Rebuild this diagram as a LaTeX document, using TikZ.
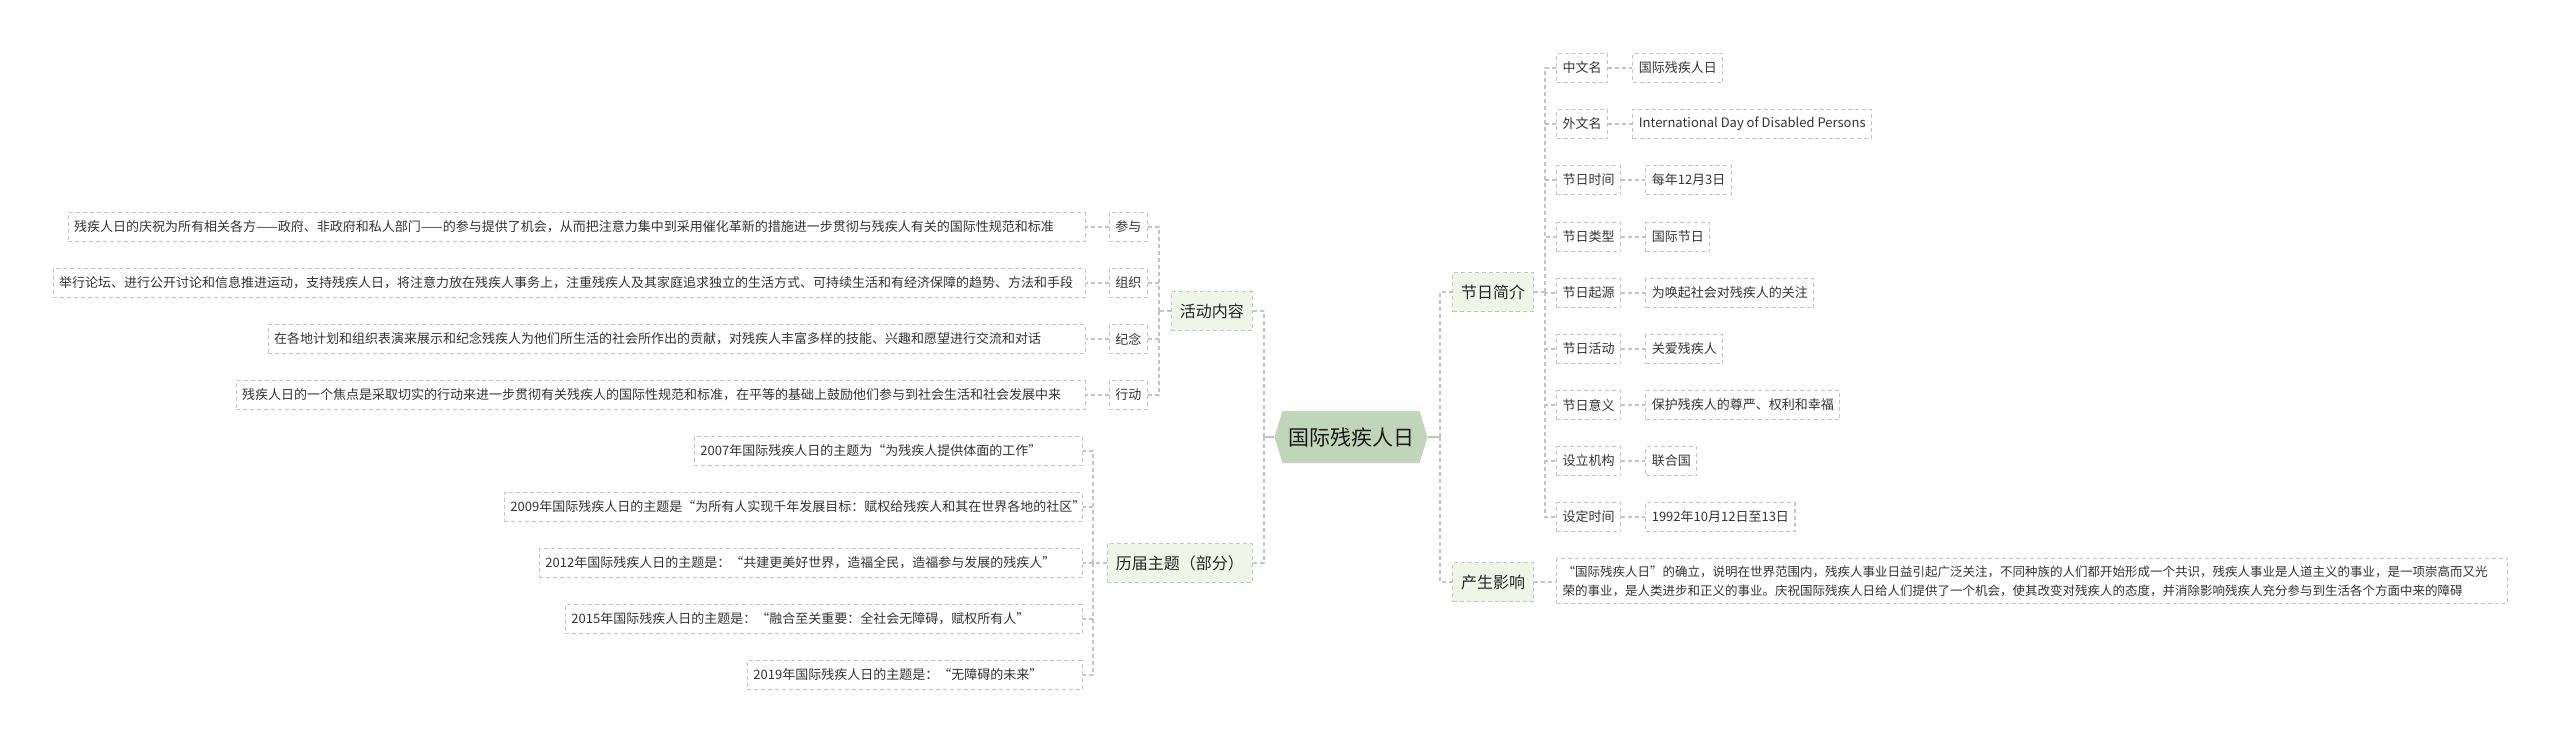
\documentclass[tikz,border=0pt]{standalone}
\usepackage{fontspec}
\setmainfont{Noto Sans CJK SC}
\usepackage{xcolor}
\usepackage{tikz}
\usetikzlibrary{shapes,shapes.symbols,positioning}

\definecolor{lineGray}{HTML}{C4C4C4}
\definecolor{textGray}{HTML}{333333}
\definecolor{rootGreen}{HTML}{BFD7B8}
\definecolor{rootLine}{HTML}{B4CBAD}
\definecolor{topicGreen}{HTML}{EFF5E7}

\begin{document}
\begin{tikzpicture}[x=1pt,y=-1pt,
  link/.style={draw=lineGray, line width=1.2pt, dash pattern=on 4pt off 3pt},
  rootlink/.style={draw=rootLine, line width=1.6pt},
  box/.style={draw=lineGray, line width=1.2pt, dash pattern=on 4pt off 3pt, text=textGray,
    inner xsep=6pt, inner ysep=0pt, minimum height=29pt, font=\fontsize{13pt}{16pt}\selectfont},
  longbox/.style={box, align=left},
  topic/.style={draw=lineGray, fill=topicGreen, line width=1.2pt, dash pattern=on 4pt off 3pt,
    text=black!85, inner xsep=8.5pt, inner ysep=0pt, minimum height=39pt, font=\fontsize{16pt}{19pt}\selectfont},
  rootbox/.style={shape=signal, signal to=west and east, signal pointer angle=146, fill=rootGreen,
    text=black!90, inner xsep=4pt, inner ysep=0pt, minimum width=153pt, minimum height=52pt,
    font=\fontsize{21pt}{24pt}\selectfont}]
\useasboundingbox (0,0) rectangle (2560,744);

\node[rootbox] (Root) at (1351,437) {国际残疾人日};

\node[topic, anchor=west] (Intro) at (1452,292) {节日简介};
\node[topic, anchor=west] (Impact) at (1452,582) {产生影响};
\node[topic, anchor=east] (Activity) at (1253,311) {活动内容};
\node[topic, anchor=east] (Themes) at (1253,563) {历届主题（部分）};

\node[box, anchor=west] (NameCN) at (1556,68) {中文名};
\node[box, anchor=west] (NameEN) at (1556,124) {外文名};
\node[box, anchor=west] (Date) at (1556,180) {节日时间};
\node[box, anchor=west] (Kind) at (1556,237) {节日类型};
\node[box, anchor=west] (Origin) at (1556,293) {节日起源};
\node[box, anchor=west] (Event) at (1556,349) {节日活动};
\node[box, anchor=west] (Meaning) at (1556,405) {节日意义};
\node[box, anchor=west] (Founder) at (1556,461) {设立机构};
\node[box, anchor=west] (Founded) at (1556,517) {设定时间};

\node[box, right=24pt of NameCN] (NameCNVal) {国际残疾人日};
\node[box, right=24pt of NameEN] (NameENVal) {International Day of Disabled Persons};
\node[box, right=24pt of Date] (DateVal) {每年12月3日};
\node[box, right=24pt of Kind] (KindVal) {国际节日};
\node[box, right=24pt of Origin] (OriginVal) {为唤起社会对残疾人的关注};
\node[box, right=24pt of Event] (EventVal) {关爱残疾人};
\node[box, right=24pt of Meaning] (MeaningVal) {保护残疾人的尊严、权利和幸福};
\node[box, right=24pt of Founder] (FounderVal) {联合国};
\node[box, right=24pt of Founded] (FoundedVal) {1992年10月12日至13日};

\node[longbox, anchor=west, text width=939pt, inner ysep=7pt, font=\fontsize{12.5pt}{19pt}\selectfont] (ImpactText) at (1556,581)
  {“国际残疾人日”的确立，说明在世界范围内，残疾人事业日益引起广泛关注，不同种族的人们都开始形成一个共识，残疾人事业是人道主义的事业，是一项崇高而又光\\
   荣的事业，是人类进步和正义的事业。庆祝国际残疾人日给人们提供了一个机会，使其改变对残疾人的态度，并消除影响残疾人充分参与到生活各个方面中来的障碍};

\node[box, anchor=east] (Join) at (1148,227) {参与};
\node[box, anchor=east] (Organize) at (1148,283) {组织};
\node[box, anchor=east] (Honor) at (1148,339) {纪念};
\node[box, anchor=east] (Act) at (1148,395) {行动};

\node[longbox, left=23pt of Join, text width=1005pt] (JoinText) {残疾人日的庆祝为所有相关各方——政府、非政府和私人部门——的参与提供了机会，从而把注意力集中到采用催化革新的措施进一步贯彻与残疾人有关的国际性规范和标准};
\node[longbox, left=23pt of Organize, text width=1020pt] (OrganizeText) {举行论坛、进行公开讨论和信息推进运动，支持残疾人日，将注意力放在残疾人事务上，注重残疾人及其家庭追求独立的生活方式、可持续生活和有经济保障的趋势、方法和手段};
\node[longbox, left=23pt of Honor, text width=805pt] (HonorText) {在各地计划和组织表演来展示和纪念残疾人为他们所生活的社会所作出的贡献，对残疾人丰富多样的技能、兴趣和愿望进行交流和对话};
\node[longbox, left=23pt of Act, text width=837pt] (ActText) {残疾人日的一个焦点是采取切实的行动来进一步贯彻有关残疾人的国际性规范和标准，在平等的基础上鼓励他们参与到社会生活和社会发展中来};

\node[longbox, anchor=east, text width=376pt] (Theme07) at (1083,451) {2007年国际残疾人日的主题为“为残疾人提供体面的工作”};
\node[longbox, anchor=east, text width=566pt] (Theme09) at (1083,507) {2009年国际残疾人日的主题是“为所有人实现千年发展目标：赋权给残疾人和其在世界各地的社区”};
\node[longbox, anchor=east, text width=531pt] (Theme12) at (1083,563) {2012年国际残疾人日的主题是：“共建更美好世界，造福全民，造福参与发展的残疾人”};
\node[longbox, anchor=east, text width=505pt] (Theme15) at (1083,619) {2015年国际残疾人日的主题是：“融合至关重要：全社会无障碍，赋权所有人”};
\node[longbox, anchor=east, text width=323pt] (Theme19) at (1083,675) {2019年国际残疾人日的主题是：“无障碍的未来”};

\coordinate (RootR) at (1440,437);
\coordinate (RootL) at (1264,437);
\coordinate (IntroJ) at (1545,292);
\coordinate (ActJ) at (1159,311);
\coordinate (ThemeJ) at (1093,563);

\draw[rootlink] (Root.east) -- (RootR);
\draw[rootlink] (Root.west) -- (RootL);
\draw[link] (RootR) |- (Intro.west);
\draw[link] (RootR) |- (Impact.west);
\draw[link] (RootL) |- (Activity.east);
\draw[link] (RootL) |- (Themes.east);

\draw[link] (Intro.east) -- (IntroJ);
\draw[link] (IntroJ) |- (NameCN.west);
\draw[link] (IntroJ) |- (NameEN.west);
\draw[link] (IntroJ) |- (Date.west);
\draw[link] (IntroJ) |- (Kind.west);
\draw[link] (IntroJ) |- (Origin.west);
\draw[link] (IntroJ) |- (Event.west);
\draw[link] (IntroJ) |- (Meaning.west);
\draw[link] (IntroJ) |- (Founder.west);
\draw[link] (IntroJ) |- (Founded.west);

\draw[link] (NameCN.east) -- (NameCNVal.west);
\draw[link] (NameEN.east) -- (NameENVal.west);
\draw[link] (Date.east) -- (DateVal.west);
\draw[link] (Kind.east) -- (KindVal.west);
\draw[link] (Origin.east) -- (OriginVal.west);
\draw[link] (Event.east) -- (EventVal.west);
\draw[link] (Meaning.east) -- (MeaningVal.west);
\draw[link] (Founder.east) -- (FounderVal.west);
\draw[link] (Founded.east) -- (FoundedVal.west);

\draw[link] (Impact.east) -- (ImpactText.west |- Impact.east);

\draw[link] (Activity.west) -- (ActJ);
\draw[link] (ActJ) |- (Join.east);
\draw[link] (ActJ) |- (Organize.east);
\draw[link] (ActJ) |- (Honor.east);
\draw[link] (ActJ) |- (Act.east);
\draw[link] (Join.west) -- (JoinText.east);
\draw[link] (Organize.west) -- (OrganizeText.east);
\draw[link] (Honor.west) -- (HonorText.east);
\draw[link] (Act.west) -- (ActText.east);

\draw[link] (Themes.west) -- (ThemeJ);
\draw[link] (ThemeJ) |- (Theme07.east);
\draw[link] (ThemeJ) |- (Theme09.east);
\draw[link] (ThemeJ) |- (Theme12.east);
\draw[link] (ThemeJ) |- (Theme15.east);
\draw[link] (ThemeJ) |- (Theme19.east);
\end{tikzpicture}
\end{document}
